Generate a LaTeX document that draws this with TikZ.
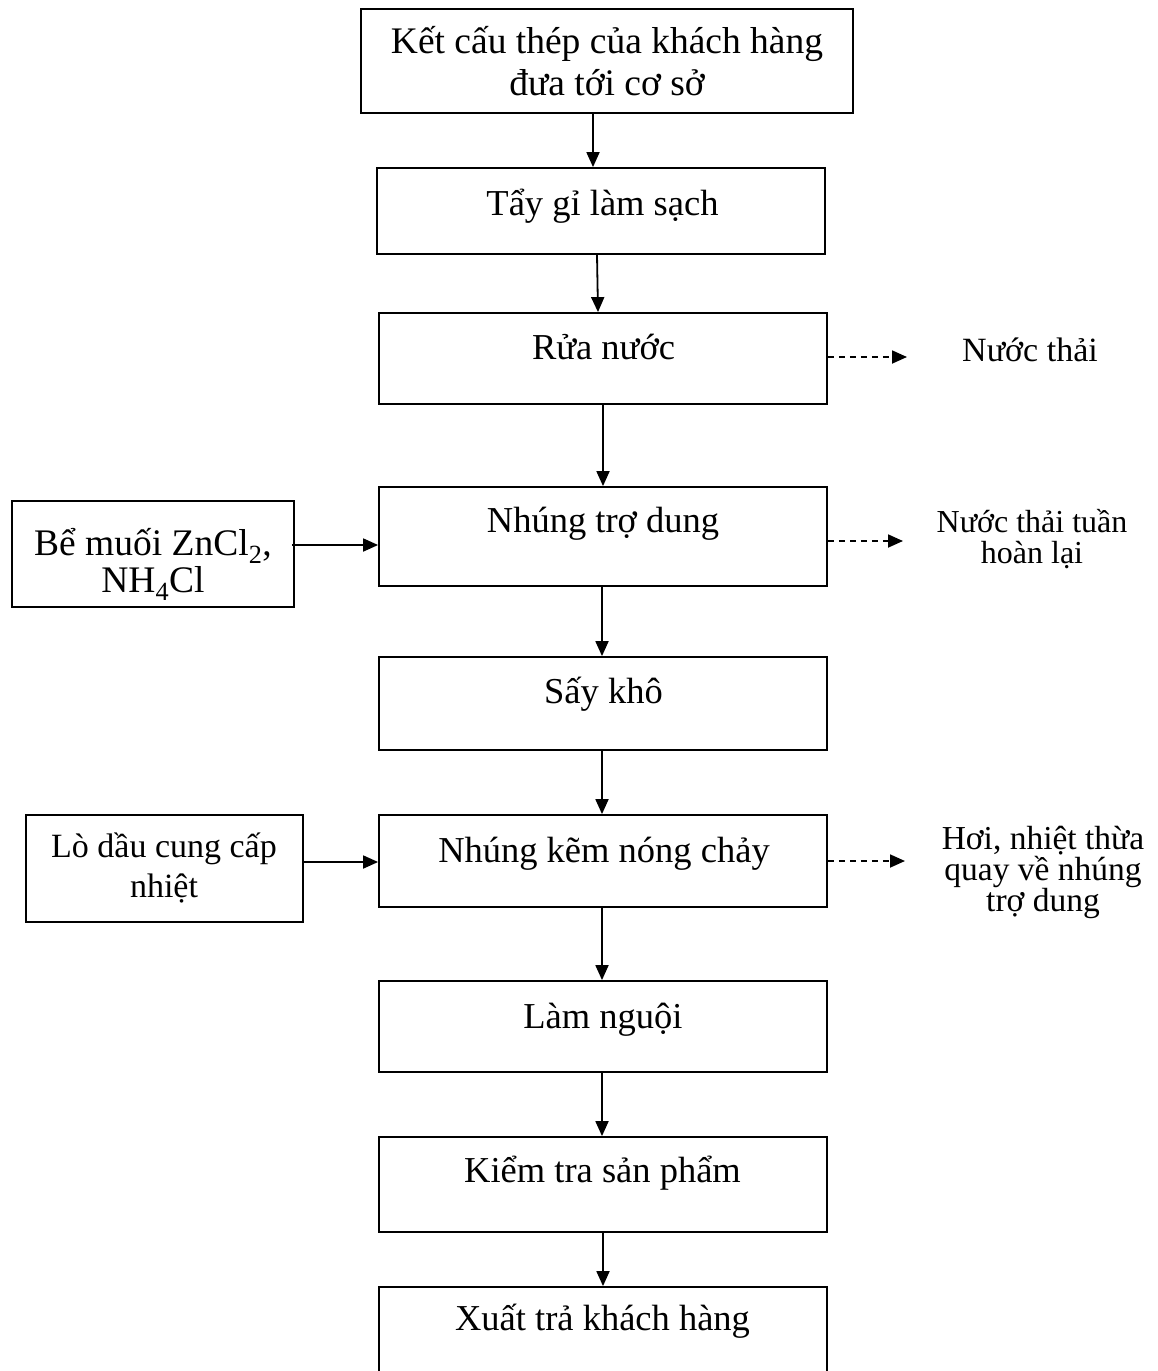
\documentclass[tikz,border=0pt]{standalone}
\usepackage{fontspec}
\setmainfont{Liberation Serif}
\usetikzlibrary{arrows.meta}

\tikzset{
  stepbox/.style={draw, line width=1.8pt, rectangle, inner sep=0pt},
  % text is placed by the baseline of its last line
  txt/.style={anchor=base, inner sep=0pt, align=center,
    execute at begin node={\lineskiplimit=-100pt\relax},
    font=\fontsize{36.5}{41}\selectfont},
  sidetxt/.style={txt, font=\fontsize{34}{30}\selectfont},
  arr/.style={line width=1.8pt, -{Triangle[length=15pt,width=13pt]}},
  darr/.style={arr, dash pattern=on 6pt off 5pt},
}

\begin{document}
\begin{tikzpicture}[x=1pt, y=-1pt]
\useasboundingbox (0,0) rectangle (1157,1371);

% process boxes of the main line
\node[stepbox, minimum width=492pt, minimum height=104pt] (b1) at (607,61) {};
\node[stepbox, minimum width=448pt, minimum height=86pt] (b2) at (601,211) {};
\node[stepbox, minimum width=448pt, minimum height=91pt] (b3) at (603,358.5) {};
\node[stepbox, minimum width=448pt, minimum height=99pt] (b4) at (603,536.5) {};
\node[stepbox, minimum width=448pt, minimum height=93pt] (b5) at (603,703.5) {};
\node[stepbox, minimum width=448pt, minimum height=92pt] (b6) at (603,861) {};
\node[stepbox, minimum width=448pt, minimum height=91pt] (b7) at (603,1026.5) {};
\node[stepbox, minimum width=448pt, minimum height=95pt] (b8) at (603,1184.5) {};
\node[stepbox, minimum width=448pt, minimum height=96pt] (b9) at (603,1335) {};

% input boxes on the left
\node[stepbox, minimum width=282pt, minimum height=106pt] (bA) at (153,554) {};
\node[stepbox, minimum width=277pt, minimum height=107pt] (bB) at (164.5,868.5) {};

% labels of the main boxes
\node[txt, font=\fontsize{37.5}{42}\selectfont] (t1) at (607,95)
  {Kết cấu thép của khách hàng\\đưa tới cơ sở};
\node[txt] (t2) at (602.5,215) {Tẩy gỉ làm sạch};
\node[txt] (t3) at (603.5,359) {Rửa nước};
\node[txt] (t4) at (603,532) {Nhúng trợ dung};
\node[txt] (t5) at (603.5,703) {Sấy khô};
\node[txt] (t6) at (604,862) {Nhúng kẽm nóng chảy};
\node[txt] (t7) at (603,1028) {Làm nguội};
\node[txt] (t8) at (602.5,1182) {Kiểm tra sản phẩm};
\node[txt] (t9) at (602.5,1330) {Xuất trả khách hàng};

% labels of the input boxes
\node[txt, font=\fontsize{37.5}{37}\selectfont] (tA) at (153,592)
  {Bể muối ZnCl\textsubscript{2},\\NH\textsubscript{4}Cl};
\node[txt, font=\fontsize{34}{40}\selectfont] (tB) at (164,897)
  {Lò dầu cung cấp\\nhiệt};

% outputs on the right
\node[sidetxt] (o1) at (1030,361) {Nước thải};
\node[sidetxt, font=\fontsize{32}{31}\selectfont] (o2) at (1032,563)
  {Nước thải tuần\\hoàn lại};
\node[sidetxt, font=\fontsize{33.5}{31}\selectfont] (o3) at (1043,911)
  {Hơi, nhiệt thừa\\quay về nhúng\\trợ dung};

% main flow
\draw[arr] (b1.south -| 593,0) -- (b2.north -| 593,0);
\draw[arr] (b2.south -| 597,0) -- (b3.north -| 598,0);
\draw[arr] (b3.south -| 603,0) -- (b4.north -| 603,0);
\draw[arr] (b4.south -| 602,0) -- (b5.north -| 602,0);
\draw[arr] (b5.south -| 602,0) -- (b6.north -| 602,0);
\draw[arr] (b6.south -| 602,0) -- (b7.north -| 602,0);
\draw[arr] (b7.south -| 602,0) -- (b8.north -| 602,0);
\draw[arr] (b8.south -| 603,0) -- (b9.north -| 603,0);

% inputs
\coordinate (inA) at ([xshift=-3pt, yshift=9pt]bA.east);
\draw[arr] (inA) -- (inA -| b4.west);
\coordinate (inB) at ([yshift=6.5pt]bB.east);
\draw[arr] (inB) -- (inB -| b6.west);

% discharges
\coordinate (d1) at ([yshift=1.5pt]b3.east);
\coordinate (e1) at (907,357);
\draw[darr] (d1) -- (e1);
\coordinate (d2) at ([yshift=-4.5pt]b4.east);
\coordinate (e2) at (903,541);
\draw[darr] (d2) -- (e2);
\coordinate (d3) at (b6.east);
\coordinate (e3) at (905,861);
\draw[darr] (d3) -- (e3);
\end{tikzpicture}
\end{document}
